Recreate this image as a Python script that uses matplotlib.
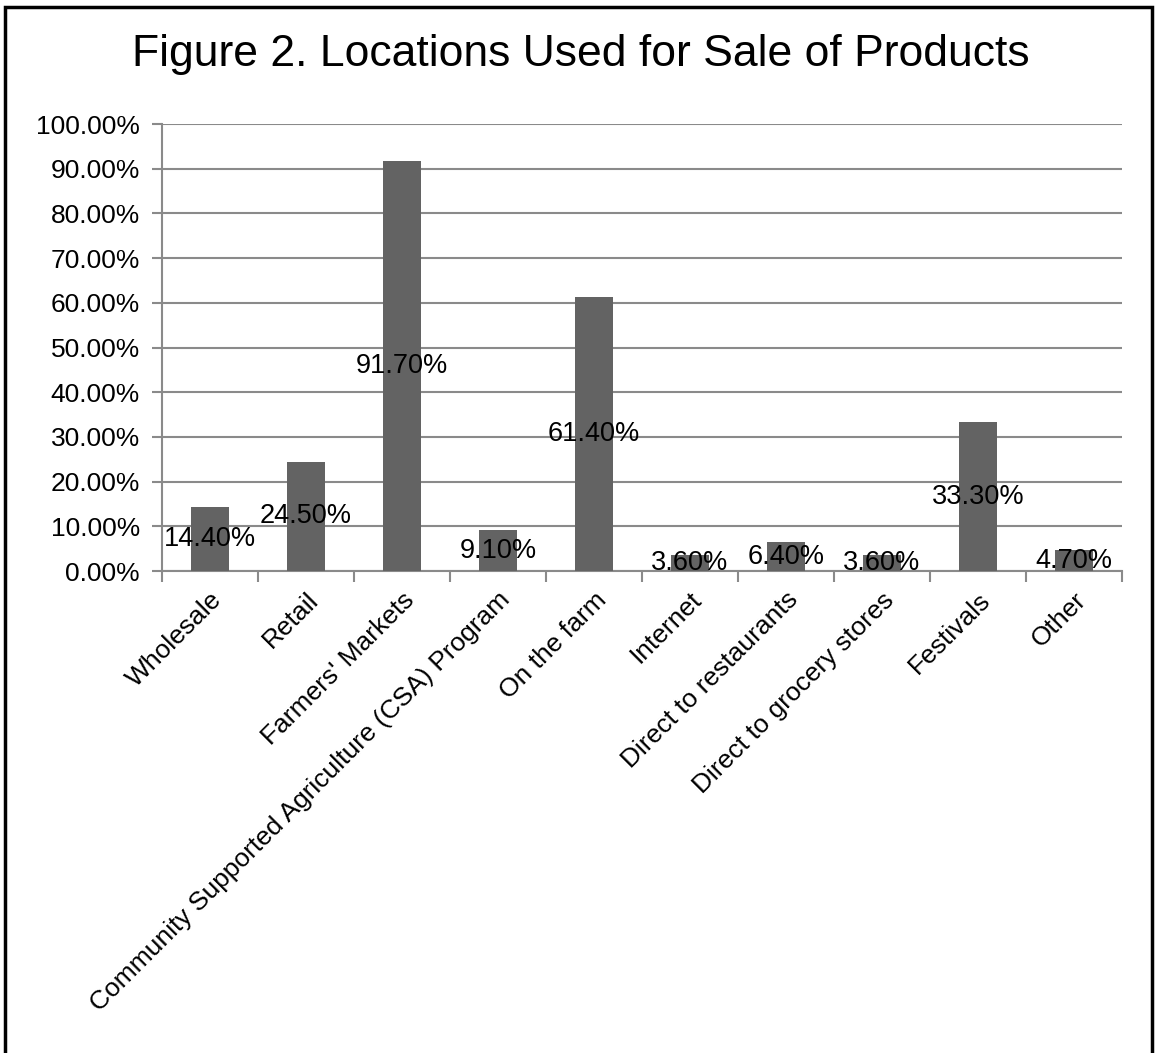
import matplotlib.pyplot as plt
from matplotlib.patches import Rectangle
from matplotlib.ticker import FuncFormatter

plt.rcParams['font.family'] = ['Liberation Sans', 'DejaVu Sans']

locations = ['Wholesale', 'Retail', "Farmers' Markets",
             'Community Supported Agriculture (CSA) Program', 'On the farm',
             'Internet', 'Direct to restaurants', 'Direct to grocery stores',
             'Festivals', 'Other']
shares = [14.4, 24.5, 91.7, 9.1, 61.4, 3.6, 6.4, 3.6, 33.3, 4.7]

fig = plt.figure(figsize=(11.57, 10.53), dpi=100)
ax = fig.add_axes([0.140, 0.4577, 0.8297, 0.4245])

x = range(len(locations))
bars = ax.bar(x, shares, width=0.4, color='#636363', zorder=3)

ax.set_xlim(-0.5, len(locations) - 0.5)
ax.set_ylim(0, 100)
ax.set_yticks(range(0, 101, 10))
ax.yaxis.set_major_formatter(FuncFormatter(lambda v, p: f'{v:.2f}%'))
ax.grid(axis='y', color='#8a8a8a', linewidth=1.5, zorder=0)
ax.tick_params(axis='y', length=7, width=1.5, color='#8a8a8a', labelsize=19, pad=9)

# tick marks sit between categories
ax.set_xticks([i - 0.5 for i in range(len(locations) + 1)], minor=False)
ax.set_xticklabels([])
ax.set_xticks(list(x), minor=True)
ax.set_xticklabels(locations, minor=True, rotation=45, ha='right',
                   rotation_mode='anchor', fontsize=19)
ax.tick_params(axis='x', which='major', length=8, width=1.5, color='#8a8a8a')
ax.tick_params(axis='x', which='minor', length=0, pad=12)

for side in ['top', 'right']:
    ax.spines[side].set_visible(False)
ax.spines['left'].set_color('#8a8a8a')
ax.spines['left'].set_linewidth(1.5)
ax.spines['bottom'].set_color('#8a8a8a')
ax.spines['bottom'].set_linewidth(1.5)

for b, v in zip(bars, shares):
    ax.text(b.get_x() + b.get_width() / 2, v / 2, f'{v:.2f}%',
            ha='center', va='center', fontsize=19.5, color='black', zorder=4)

fig.text(0.502, 0.948, 'Figure 2. Locations Used for Sale of Products',
         ha='center', va='center', fontsize=32)

fig.patches.append(Rectangle((5 / 1157, -0.05), 1147 / 1157, 1.05 - 7 / 1053,
                             transform=fig.transFigure, fill=False,
                             edgecolor='black', linewidth=2.5))

fig.savefig('out.png', dpi=100)
